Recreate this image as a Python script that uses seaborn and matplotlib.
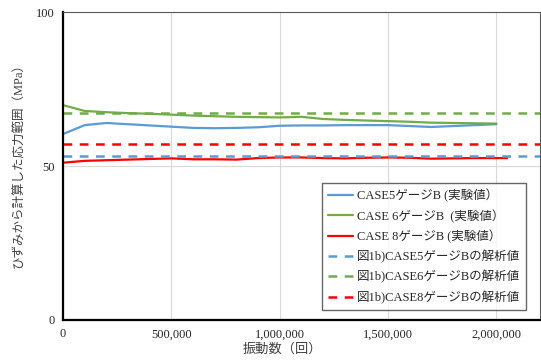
import matplotlib
matplotlib.use("Agg")
import matplotlib.pyplot as plt
import matplotlib.ticker as mticker
import seaborn as sns
import pandas as pd

# 振動数 (回)
cycles = [0, 100000, 200000, 300000, 400000, 500000, 600000, 700000, 800000, 900000,
          1000000, 1100000, 1200000, 1300000, 1400000, 1500000, 1600000, 1700000,
          1800000, 1900000, 2000000]
cycles_case8 = cycles + [2050000]

case5 = [60.4, 63.3, 64.0, 63.6, 63.2, 62.8, 62.4, 62.3, 62.4, 62.6, 63.1,
         63.2, 63.2, 63.3, 63.3, 63.3, 63.0, 62.7, 63.0, 63.3, 63.6]
case6 = [69.8, 67.9, 67.5, 67.2, 67.0, 66.7, 66.4, 66.2, 66.0, 65.9, 65.8,
         66.0, 65.3, 65.0, 64.8, 64.6, 64.4, 64.1, 64.0, 63.9, 63.8]
case8 = [51.1, 51.7, 51.9, 52.1, 52.3, 52.5, 52.2, 52.2, 52.1, 52.6, 52.8,
         52.8, 52.6, 52.5, 52.7, 52.8, 52.7, 52.4, 52.5, 52.6, 52.6, 52.6]

# 解析値 (constant)
calc_x = [0, 2200000]
calc5 = 53.3
calc6 = 67.3
calc8 = 57.3

labels = ["CASE5ゲージB (実験値）", "CASE 6ゲージB  (実験値）", "CASE 8ゲージB (実験値）",
          "図1b)CASE5ゲージBの解析値", "図1b)CASE6ゲージBの解析値", "図1b)CASE8ゲージBの解析値"]

blue = "#5B9BD5"
green = "#70AD47"
red = "#FF0000"

sns.set_style("white")
fam = ["Liberation Serif", "Noto Sans CJK JP"]
plt.rcParams["font.family"] = fam

fig = plt.figure(figsize=(5.41, 3.63), dpi=100)
ax = fig.add_axes([0.1165, 0.1185, 0.881, 0.848])

df5 = pd.DataFrame({"x": cycles, "y": case5})
df6 = pd.DataFrame({"x": cycles, "y": case6})
df8 = pd.DataFrame({"x": cycles_case8, "y": case8})

sns.lineplot(data=df5, x="x", y="y", ax=ax, color=blue, lw=1.6, label=labels[0])
sns.lineplot(data=df6, x="x", y="y", ax=ax, color=green, lw=1.6, label=labels[1])
sns.lineplot(data=df8, x="x", y="y", ax=ax, color=red, lw=1.6, label=labels[2])

for val, c, lab in [(calc5, blue, labels[3]), (calc6, green, labels[4]), (calc8, red, labels[5])]:
    d = pd.DataFrame({"x": calc_x, "y": [val, val]})
    sns.lineplot(data=d, x="x", y="y", ax=ax, color=c, lw=1.8, label=lab,
                 linestyle=(0, (3.5, 3)))

ax.set_xlim(0, 2200000)
ax.set_ylim(0, 100)
ax.set_xticks([0, 500000, 1000000, 1500000, 2000000])
ax.set_yticks([0, 50, 100])
ax.xaxis.set_major_formatter(mticker.FuncFormatter(lambda v, p: f"{int(v):,}"))
ax.grid(True, color="#d9d9d9", lw=0.8)
ax.set_axisbelow(True)

for s in ["top", "right"]:
    ax.spines[s].set_color("#595959")
    ax.spines[s].set_linewidth(0.8)
for s in ["left", "bottom"]:
    ax.spines[s].set_color("black")
    ax.spines[s].set_linewidth(1.6)

ax.tick_params(axis="both", labelsize=9, length=0, pad=6)
ax.set_xlabel("振動数（回）", fontsize=9.5, color="#404040")
ax.set_ylabel("ひずみから計算した応力範囲（MPa）", fontsize=9, color="#404040")
ax.xaxis.set_label_coords(0.46, -0.075)
ax.yaxis.set_label_coords(-0.078, 0.51)

leg = ax.legend(loc="lower right", bbox_to_anchor=(0.972, 0.032), fontsize=9,
                frameon=True, fancybox=False, edgecolor="#404040", handlelength=2.0,
                handletextpad=0.3, labelspacing=0.55, borderpad=0.5, borderaxespad=0)
leg.get_frame().set_linewidth(1.0)

fig.savefig("out.png", dpi=100)
